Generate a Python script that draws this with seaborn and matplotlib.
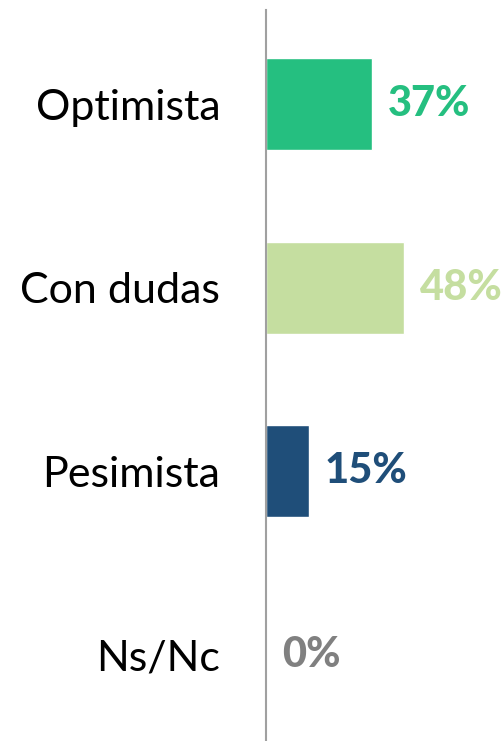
import pandas as pd
import numpy as np
import seaborn as sns
import matplotlib.pyplot as plt

# data
categories = ['Optimista', 'Con dudas', 'Pesimista', 'Ns/Nc']
values = [37, 48, 15, 0]
colors = ['#25BF80', '#C5DEA0', '#1F4E79', '#808080']

df = pd.DataFrame({'cat': categories, 'val': values})

sns.set_style('white')
plt.rcParams['font.family'] = ['Lato', 'DejaVu Sans']

fig = plt.figure(figsize=(5.04, 7.41), dpi=100)
ax = fig.add_axes([266 / 504, 0, 1 - 266 / 504, 731 / 741])

sns.barplot(data=df, y='cat', x='val', hue='cat', palette=colors, legend=False,
            width=0.5, saturation=1, ax=ax)

ax.set_xlim(0, 238 / 2.865)
ax.set_ylim(3.468, -0.512)

for i, (v, c) in enumerate(zip(values, colors)):
    ax.annotate(f'{v}%', xy=(v, i), xytext=(16, 0), textcoords='offset pixels',
                ha='left', va='center', fontsize=30, fontweight='black', color=c)

for s in ['top', 'right', 'bottom']:
    ax.spines[s].set_visible(False)
ax.spines['left'].set_color('#A0A0A0')
ax.spines['left'].set_linewidth(1.5)
ax.set_xticks([])
ax.set_xlabel('')
ax.set_ylabel('')
ax.tick_params(axis='y', length=0, pad=33, labelsize=31, labelcolor='black')

fig.savefig('out.png', dpi=100)
